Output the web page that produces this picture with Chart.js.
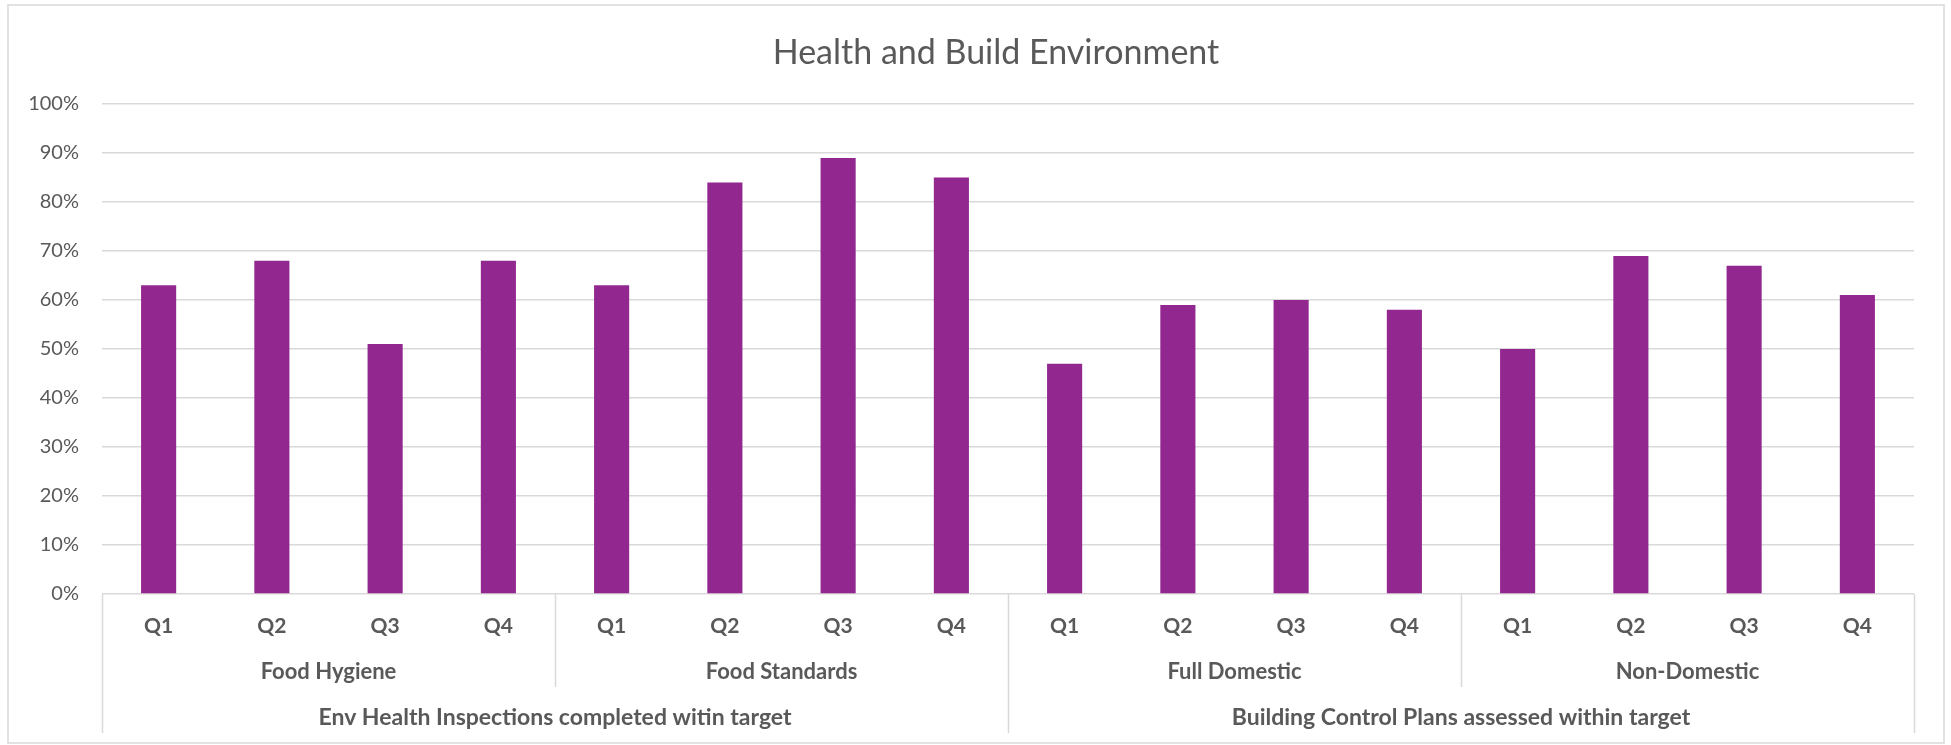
<!DOCTYPE html>
<html>
<head>
<meta charset="utf-8">
<title>Health and Build Environment</title>
<script src="https://cdn.jsdelivr.net/npm/chart.js@4.4.1/dist/chart.umd.min.js"></script>
<style>
  html, body { margin: 0; padding: 0; background: #fff; }
  #chart { display: block; }
</style>
</head>
<body>
<canvas id="chart" width="1951" height="745"></canvas>
<script>
// --- data ---
const quarters = ['Q1', 'Q2', 'Q3', 'Q4'];
const groups = ['Food Hygiene', 'Food Standards', 'Full Domestic', 'Non-Domestic'];
const sections = ['Env Health Inspections completed witin target', 'Building Control Plans assessed within target'];

const foodHygiene = [63, 68, 51, 68];
const foodStandards = [63, 84, 89, 85];
const fullDomestic = [47, 59, 60, 58];
const nonDomestic = [50, 69, 67, 61];

const yTicks = [0, 10, 20, 30, 40, 50, 60, 70, 80, 90, 100];

const TEXT = '#595959';
const GRID = '#D9D9D9';
const FONT = 'Lato, "Open Sans", sans-serif';

const labels = groups.flatMap(() => quarters);
const values = [...foodHygiene, ...foodStandards, ...fullDomestic, ...nonDomestic];

// frame, title and the grouped category labels under the x axis
const frame = {
  id: 'frame',
  beforeDraw(chart) {
    const ctx = chart.ctx;
    ctx.save();
    ctx.strokeStyle = GRID;
    ctx.lineWidth = 1.5;
    ctx.strokeRect(8, 5, 1936, 738);
    ctx.fillStyle = TEXT;
    ctx.font = '34px ' + FONT;
    ctx.textAlign = 'center';
    ctx.textBaseline = 'middle';
    ctx.fillText('Health and Build Environment', 996, 53);
    ctx.restore();
  },
  afterDraw(chart) {
    const ctx = chart.ctx;
    const xs = chart.scales.x;
    const top = xs.top;
    const per = quarters.length;
    ctx.save();
    ctx.strokeStyle = GRID;
    ctx.lineWidth = 1.5;
    // separators
    for (let k = 0; k <= groups.length; k++) {
      const x = Math.round(xs.getPixelForValue(k * per - 0.5)) + 0.5;
      const bottom = (k % 2 === 0) ? top + 139 : top + 93;
      ctx.beginPath();
      ctx.moveTo(x, top);
      ctx.lineTo(x, bottom);
      ctx.stroke();
    }
    ctx.fillStyle = TEXT;
    ctx.font = 'bold 22px ' + FONT;
    ctx.textAlign = 'center';
    ctx.textBaseline = 'middle';
    groups.forEach((g, k) => {
      ctx.fillText(g, xs.getPixelForValue(k * per + (per - 1) / 2), top + 78);
    });
    ctx.font = 'bold 23px ' + FONT;
    const perSection = labels.length / sections.length;
    sections.forEach((s, k) => {
      ctx.fillText(s, xs.getPixelForValue(k * perSection + (perSection - 1) / 2), top + 124);
    });
    ctx.restore();
  }
};

new Chart(document.getElementById('chart'), {
  type: 'bar',
  data: {
    labels,
    datasets: [{
      label: 'Within target',
      data: values,
      backgroundColor: '#92278F',
      borderWidth: 0,
      barPercentage: 0.31,
      categoryPercentage: 1
    }]
  },
  options: {
    responsive: false,
    animation: false,
    layout: { padding: { top: 104, right: 37, bottom: 0, left: 0 } },
    scales: {
      x: {
        grid: { display: false },
        border: { display: false },
        ticks: {
          color: TEXT,
          font: { family: FONT, size: 21, weight: 'bold' },
          padding: 12,
          maxRotation: 0,
          autoSkip: false
        },
        afterFit(scale) { scale.height = 151; }
      },
      y: {
        min: 0,
        max: 100,
        grid: { color: GRID, lineWidth: 1.5, drawTicks: false },
        border: { display: false },
        afterBuildTicks(scale) { scale.ticks = yTicks.map(v => ({ value: v })); },
        ticks: {
          color: TEXT,
          font: { family: FONT, size: 20 },
          padding: 23,
          callback: v => v + '%'
        },
        afterFit(scale) { scale.width = 102; }
      }
    },
    plugins: {
      legend: { display: false },
      title: { display: false },
      tooltip: { enabled: false }
    }
  },
  plugins: [frame]
});
</script>
</body>
</html>
